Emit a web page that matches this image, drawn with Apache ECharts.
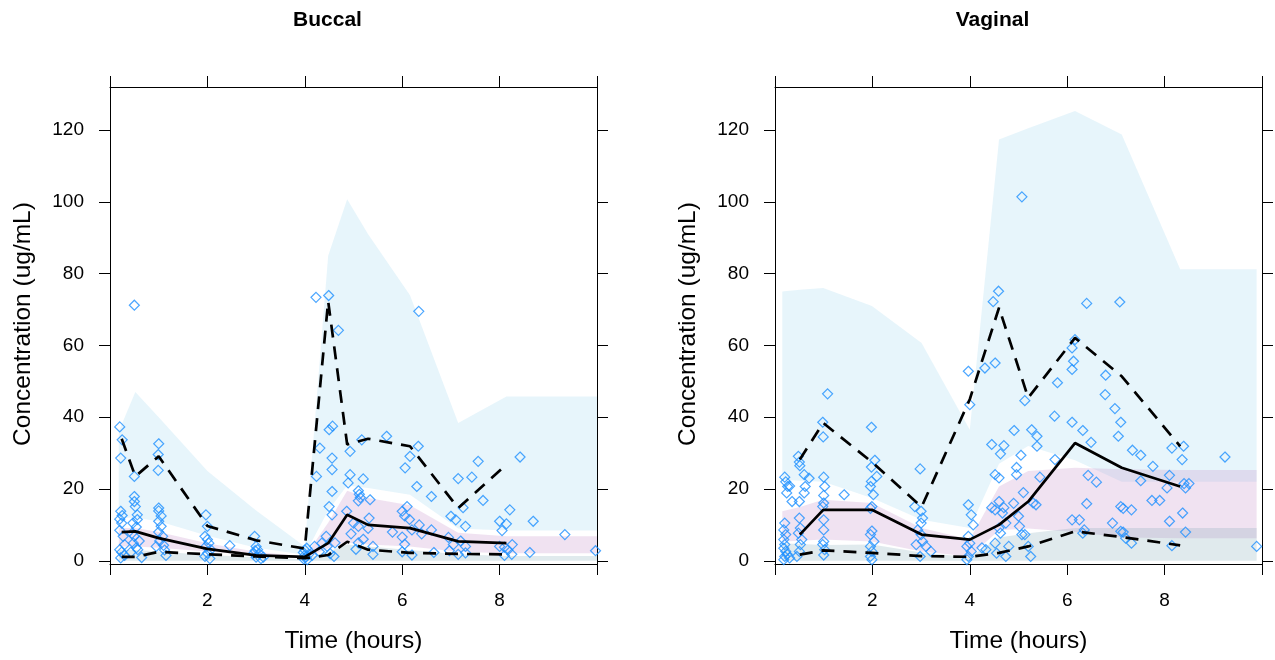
<!DOCTYPE html>
<html>
<head>
<meta charset="utf-8">
<script src="https://cdn.jsdelivr.net/npm/echarts@6/dist/echarts.min.js"></script>
<style>html,body{margin:0;padding:0;background:#fff}#c{width:1275px;height:660px}</style>
</head>
<body>
<div id="c"></div>
<script>
// ---------- tick values ----------
const timeTicks = [0, 2, 4, 6, 8, 10];
const timeLabels = [2, 4, 6, 8];
const concTicks = [0, 20, 40, 60, 80, 100, 120];

// ---------- Buccal ----------
const buccalBinX   = [0.24, 0.52, 1.0, 2.0, 3.0, 4.0, 4.48, 4.87, 5.3, 6.16, 7.15, 8.14];
const buccalObsMed = [8.0, 8.2, 6.3, 3.3, 1.5, 1.1, 4.9, 12.8, 10.0, 9.1, 5.4, 4.9];
const buccalObs95  = [34, 23.5, 29.1, 9.7, 5.7, 3.4, 72.3, 32.4, 34, 31.9, 14.7, 26.8];
const buccalObs05  = [1.1, 1.1, 2.5, 1.8, 1.2, 0.7, 1.6, 5.3, 3.1, 2.2, 1.9, 1.8];

const buccalBandX   = [0.18, 0.52, 1.0, 2.0, 3.0, 4.0, 4.48, 4.87, 5.3, 6.16, 7.15, 8.14, 10.0];
const buccalPI95Hi  = [36, 47, 40, 25, 14, 4, 85, 100.7, 91, 74, 38.4, 45.8, 45.8];
const buccalPI95Lo  = [12, 12, 11, 7, 3.6, 1.7, 14, 21, 20.3, 18.4, 9, 8.4, 8.4];
const buccalPI50Hi  = [9.1, 9.1, 8, 4.9, 2.5, 1.2, 10.6, 19.5, 17.5, 15.5, 7.8, 6.8, 6.8];
const buccalPI50Lo  = [4, 4, 3.6, 2.6, 1.5, 0.8, 3.5, 5, 4.5, 4, 2.5, 2.1, 2.1];
const buccalPI05Hi  = [3.1, 3, 2.6, 1.6, 1, 0.5, 2.5, 4.5, 4, 3, 1.8, 1.3, 1.3];
const buccalPI05Lo  = [0, 0, 0, 0, 0, 0, 0, 0, 0, 0, 0, 0, 0];

const buccalPoints = [
  [0.2,37.3],[0.25,33.7],[0.22,28.6],[0.22,13.8],[0.25,12.6],[0.2,11.6],[0.24,10.5],[0.27,6.8],[0.2,3.1],[0.24,2.4],[0.3,1.5],[0.22,0.8],[0.3,4.5],[0.2,8.5],
  [0.5,71.2],[0.5,23.5],[0.5,17.9],[0.5,16.5],[0.52,15.1],[0.56,12.8],[0.47,10.5],[0.54,9.4],[0.45,7.6],[0.5,6.8],[0.48,4.9],[0.54,3.6],[0.57,3.1],[0.43,2.4],[0.65,0.9],[0.56,11.5],[0.6,5.5],
  [1.0,32.6],[0.99,29.6],[0.99,25.2],[1.0,14.7],[1.0,13.9],[1.05,12.5],[1.0,11.0],[1.05,9.6],[1.0,8.0],[1.08,6.8],[1.02,5.5],[1.1,4.3],[1.12,3.0],[1.15,1.5],[0.95,4.0],
  [1.97,12.8],[2.0,9.6],[1.95,6.8],[2.0,5.9],[2.03,4.9],[1.97,4.0],[2.07,3.1],[2.0,2.1],[1.95,1.2],[2.05,0.6],[2.46,4.2],
  [2.97,6.8],[3.0,4.0],[3.03,3.1],[2.95,2.1],[3.07,1.9],[3.0,1.0],[3.1,0.6],[3.15,1.0],[2.98,2.8],
  [3.97,2.3],[4.0,1.5],[4.02,1.0],[3.98,0.5],[4.05,0.3],[4.0,3.0],[4.04,3.5],[4.08,1.8],
  [4.2,4.0],[4.35,4.9],[4.44,6.8],[4.46,4.0],[4.52,2.0],[4.6,1.2],[4.62,5.0],[4.31,31.4],[4.24,23.5],[4.5,36.5],[4.57,37.5],[4.56,28.6],[4.56,25.4],[4.56,19.3],[4.5,15.1],[4.56,12.8],[4.23,73.4],[4.49,73.9],[4.69,64.2],[4.3,2.5],[4.15,1.5],
  [4.93,30.5],[5.17,33.7],[4.93,24.0],[4.89,21.7],[5.2,22.8],[5.1,19.5],[5.12,18.5],[5.14,17.6],[5.1,16.7],[4.86,13.8],[5.0,10.5],[5.1,9.6],[5.34,17.0],[5.32,11.9],[5.3,9.0],[5.1,5.0],[5.4,4.0],[5.4,1.8],[4.95,7.5],[5.2,6.0],[5.05,3.2],
  [5.68,34.7],[6.06,25.9],[6.16,29.1],[6.33,31.9],[6.3,20.7],[6.6,17.9],[6.34,69.5],[6.0,13.8],[6.05,12.5],[6.1,15.1],[6.15,11.5],[6.0,6.6],[6.05,4.6],[6.0,2.5],[6.2,1.6],[6.2,8.6],[6.35,10.0],[6.4,7.5],[6.6,8.6],[6.65,2.3],[5.8,8.0],
  [7.15,22.9],[7.43,23.3],[7.56,27.7],[7.66,16.8],[7.0,12.4],[7.1,11.4],[7.25,14.8],[7.3,9.6],[6.95,6.5],[7.05,4.5],[7.2,5.5],[7.3,4.0],[7.15,1.8],[7.3,2.2],[6.97,2.8],
  [8.42,28.9],[8.21,14.2],[8.0,11.0],[8.14,10.3],[8.05,8.4],[8.26,4.5],[8.1,3.8],[8.17,3.0],[8.1,1.5],[8.25,1.8],[8.0,4.0],[8.69,11.0],[9.34,7.3],[8.62,2.3],[9.97,2.8]
];

// ---------- Vaginal ----------
const vaginalBinX   = [0.51, 0.99, 1.99, 3.01, 4.0, 4.6, 5.2, 6.16, 7.12, 8.32];
const vaginalObsMed = [7.3, 14.2, 14.2, 7.3, 5.9, 10.0, 16.5, 32.8, 25.9, 20.7];
const vaginalObs95  = [28.2, 38.4, 27.5, 15.0, 45.0, 70.5, 45.4, 62.1, 51.4, 31.9];
const vaginalObs05  = [1.7, 2.9, 2.2, 1.3, 1.1, 2.2, 4.0, 8.2, 6.6, 4.3];

const vaginalBandX  = [0.15, 0.51, 0.99, 1.99, 3.01, 4.0, 4.6, 5.2, 6.16, 7.12, 8.32, 9.89];
const vaginalPI95Hi = [75, 75.5, 76, 71, 60.7, 36.5, 117.4, 120.5, 125.3, 118.8, 81.2, 81.2];
const vaginalPI95Lo = [22.6, 22.3, 22, 17.5, 11.4, 9.1, 27, 32, 28, 22, 22, 22];
const vaginalPI50Hi = [13.8, 15, 17.0, 16.1, 9.1, 5.9, 20.7, 25, 25.9, 25.5, 25.3, 25.3];
const vaginalPI50Lo = [5.4, 5.6, 5.9, 5.4, 2.6, 1.2, 8.5, 9.0, 8, 6.5, 6.3, 6.3];
const vaginalPI05Hi = [4.9, 4.7, 4.4, 4.5, 2.3, 1.0, 6.5, 7.7, 9.1, 9.1, 9.1, 9.1];
const vaginalPI05Lo = [0, 0, 0, 0, 0, 0, 0, 0, 0, 0, 0, 0];

const vaginalPoints = [
  [0.2,10.5],[0.18,8.6],[0.22,7.3],[0.18,5.9],[0.2,4.5],[0.18,3.5],[0.22,2.6],[0.2,1.2],[0.18,0.3],[0.2,23.3],[0.26,20.7],[0.3,20.8],[0.24,18.9],[0.35,16.5],[0.22,22.0],[0.25,1.8],[0.3,0.8],
  [0.48,29.1],[0.51,26.5],[0.5,27.5],[0.6,24.0],[0.62,20.7],[0.6,18.9],[0.7,23.0],[0.5,11.9],[0.52,9.1],[0.48,7.7],[0.55,5.9],[0.52,4.5],[0.5,2.6],[0.45,1.2],[0.5,16.5],
  [1.08,46.5],[0.98,38.6],[0.99,34.5],[1.0,23.3],[1.02,20.7],[1.0,18.2],[1.0,16.1],[0.98,15.1],[1.0,11.4],[1.0,8.6],[1.0,5.4],[0.98,4.5],[1.02,3.1],[1.0,1.6],[1.42,18.4],
  [1.98,37.2],[2.05,28.0],[1.98,26.1],[2.09,23.5],[1.98,22.1],[1.96,20.7],[2.02,18.4],[1.99,15.1],[1.96,14.6],[1.99,8.3],[1.96,7.3],[2.03,5.4],[1.96,4.0],[1.99,2.6],[1.96,1.2],[1.99,0.3],
  [2.98,25.6],[2.87,15.1],[3.0,13.8],[3.03,11.9],[3.0,10.5],[2.93,8.6],[3.0,7.3],[3.03,5.4],[2.9,4.5],[3.1,4.0],[3.2,2.6],[2.98,1.2],
  [3.97,52.8],[4.0,43.5],[3.97,15.6],[4.03,12.8],[4.07,10.0],[3.97,6.8],[4.0,4.9],[3.94,4.0],[4.03,2.6],[3.97,1.2],[3.94,0.3],
  [4.31,53.7],[4.52,55.1],[4.59,75.1],[4.48,72.2],[4.45,32.4],[4.7,32.1],[4.63,29.8],[4.52,24.0],[4.6,23.1],[4.45,14.8],[4.52,14.2],[4.7,14.8],[4.74,10.5],[4.67,13.3],[4.6,9.1],[4.63,7.7],[4.52,4.9],[4.8,4.0],[4.74,1.2],[4.33,3.1],[4.25,3.6],[4.6,16.5],[4.55,2.1],
  [5.07,101.4],[5.13,44.6],[4.91,36.3],[5.27,36.5],[5.38,34.7],[5.38,31.9],[5.05,29.4],[4.96,26.0],[4.96,24.0],[5.44,23.3],[5.0,12.4],[5.02,9.6],[5.07,7.3],[5.13,7.3],[5.3,16.1],[5.36,15.6],[5.2,4.0],[5.25,1.2],[4.9,16.0],[5.1,19.0],
  [6.16,61.6],[6.1,59.3],[6.13,55.6],[6.1,53.3],[5.8,49.6],[5.74,40.3],[6.1,38.6],[6.32,36.3],[6.49,33.0],[5.75,28.2],[6.6,21.9],[6.43,23.8],[6.4,15.9],[6.1,11.4],[6.25,11.4],[6.32,7.7],[6.4,71.7],[6.35,8.6],
  [6.79,51.7],[6.78,46.3],[6.98,42.4],[7.1,38.6],[7.05,34.7],[7.08,72.1],[7.34,30.8],[7.51,29.4],[7.51,22.3],[7.32,14.2],[7.15,14.6],[7.1,15.1],[6.93,10.5],[7.15,8.0],[7.32,4.9],[7.2,6.3],[7.1,8.2],
  [7.76,26.3],[8.15,31.4],[8.39,31.9],[8.36,28.2],[8.1,23.8],[8.05,20.3],[8.4,21.5],[8.5,21.5],[8.43,20.3],[7.9,16.8],[7.74,16.8],[8.1,11.0],[8.37,13.3],[8.43,8.0],[8.15,4.2],
  [9.24,28.9],[9.89,4.0]
];

// ---------- styles ----------
const FONT = '"Liberation Sans", Arial, sans-serif';
const COL_95 = 'rgba(135,206,235,0.20)';
const COL_50 = 'rgba(200,150,205,0.28)';
const COL_05 = 'rgba(112,160,172,0.22)';
const PT_COL = '#1E90FF';
const Y_MIN = -0.9, Y_MAX = 132;

const zip = (xs, ys) => xs.map((x, i) => [x, ys[i]]);

// band polygon drawn through the axis scales (api.coord)
function band(ax, xs, lo, hi, color) {
  const rows = xs.map((x, i) => [x, lo[i], hi[i]]);
  return {
    type: 'custom', xAxisIndex: ax, yAxisIndex: ax, silent: true, z: 1,
    data: rows, encode: { x: 0, y: [1, 2] },
    renderItem: function (params, api) {
      if (params.dataIndex !== 0) return null;
      const top = rows.map(r => api.coord([r[0], r[2]]));
      const bot = rows.slice().reverse().map(r => api.coord([r[0], r[1]]));
      return { type: 'polygon', shape: { points: top.concat(bot) }, style: { fill: color } };
    }
  };
}
function obsLine(ax, xs, ys, dashed) {
  return { type: 'line', xAxisIndex: ax, yAxisIndex: ax, data: zip(xs, ys), symbol: 'none',
    lineStyle: { color: '#000', width: 2.7, type: dashed ? [13, 9] : 'solid' }, z: 5, silent: true };
}
function pts(ax, data) {
  return { type: 'scatter', xAxisIndex: ax, yAxisIndex: ax, data: data, symbol: 'diamond', symbolSize: 10,
    itemStyle: { color: 'rgba(0,0,0,0)', borderColor: PT_COL, borderWidth: 1.2 }, z: 3, silent: true };
}

function xAx(grid, pos) {
  const bottom = pos === 'bottom';
  return { type: 'value', gridIndex: grid, position: pos, min: 0, max: 10,
    axisLine: { show: true, onZero: false, lineStyle: { color: '#000', width: 1 } },
    axisTick: { show: true, inside: false, length: 11, lineStyle: { color: '#000', width: 1 }, customValues: timeTicks },
    axisLabel: { show: bottom, customValues: timeLabels, margin: 27, color: '#000', fontSize: 19, fontFamily: FONT },
    splitLine: { show: false } };
}
function yAx(grid, pos) {
  const left = pos === 'left';
  return { type: 'value', gridIndex: grid, position: pos, min: Y_MIN, max: Y_MAX,
    axisLine: { show: true, onZero: false, lineStyle: { color: '#000', width: 1 } },
    axisTick: { show: true, inside: false, length: 11, lineStyle: { color: '#000', width: 1 }, customValues: concTicks },
    axisLabel: { show: left, customValues: concTicks, margin: 26, color: '#000', fontSize: 19, fontFamily: FONT },
    splitLine: { show: false } };
}

const panels = [
  { ax: 0, left: 110, title: 'Buccal', binX: buccalBinX, med: buccalObsMed, p95: buccalObs95, p05: buccalObs05,
    bx: buccalBandX, b95: [buccalPI95Lo, buccalPI95Hi], b50: [buccalPI50Lo, buccalPI50Hi], b05: [buccalPI05Lo, buccalPI05Hi], pts: buccalPoints },
  { ax: 1, left: 775, title: 'Vaginal', binX: vaginalBinX, med: vaginalObsMed, p95: vaginalObs95, p05: vaginalObs05,
    bx: vaginalBandX, b95: [vaginalPI95Lo, vaginalPI95Hi], b50: [vaginalPI50Lo, vaginalPI50Hi], b05: [vaginalPI05Lo, vaginalPI05Hi], pts: vaginalPoints }
];

const grids = [], xAxes = [], yAxes = [], series = [], graphics = [];
const GW = 487, GT = 87, GH = 477;
panels.forEach(p => { grids.push({ left: p.left, top: GT, width: GW, height: GH }); });
panels.forEach(p => { xAxes.push(xAx(p.ax, 'bottom')); yAxes.push(yAx(p.ax, 'left')); });
panels.forEach(p => { xAxes.push(xAx(p.ax, 'top')); yAxes.push(yAx(p.ax, 'right')); });

panels.forEach(p => {
  series.push(band(p.ax, p.bx, p.b95[0], p.b95[1], COL_95));
  series.push(band(p.ax, p.bx, p.b50[0], p.b50[1], COL_50));
  series.push(band(p.ax, p.bx, p.b05[0], p.b05[1], COL_05));
  series.push(pts(p.ax, p.pts));
  series.push(obsLine(p.ax, p.binX, p.p05, true));
  series.push(obsLine(p.ax, p.binX, p.p95, true));
  series.push(obsLine(p.ax, p.binX, p.med, false));

  const cx = p.left + GW / 2;
  graphics.push({ type: 'text', x: cx - 26, y: 20,
    style: { text: p.title, font: 'bold 21px ' + FONT, fill: '#000', align: 'center', verticalAlign: 'middle' } });
  graphics.push({ type: 'text', x: cx, y: 641,
    style: { text: 'Time (hours)', font: '24.5px ' + FONT, fill: '#000', align: 'center', verticalAlign: 'middle' } });
  graphics.push({ type: 'text', x: p.left - 87, y: 324, rotation: Math.PI / 2,
    style: { text: 'Concentration (ug/mL)', font: '24.5px ' + FONT, fill: '#000', align: 'center', verticalAlign: 'middle' } });
});

const chart = echarts.init(document.getElementById('c'), null, { renderer: 'canvas' });
chart.setOption({
  animation: false,
  backgroundColor: '#fff',
  grid: grids,
  xAxis: xAxes,
  yAxis: yAxes,
  series: series,
  graphic: graphics
});
</script>
</body>
</html>
